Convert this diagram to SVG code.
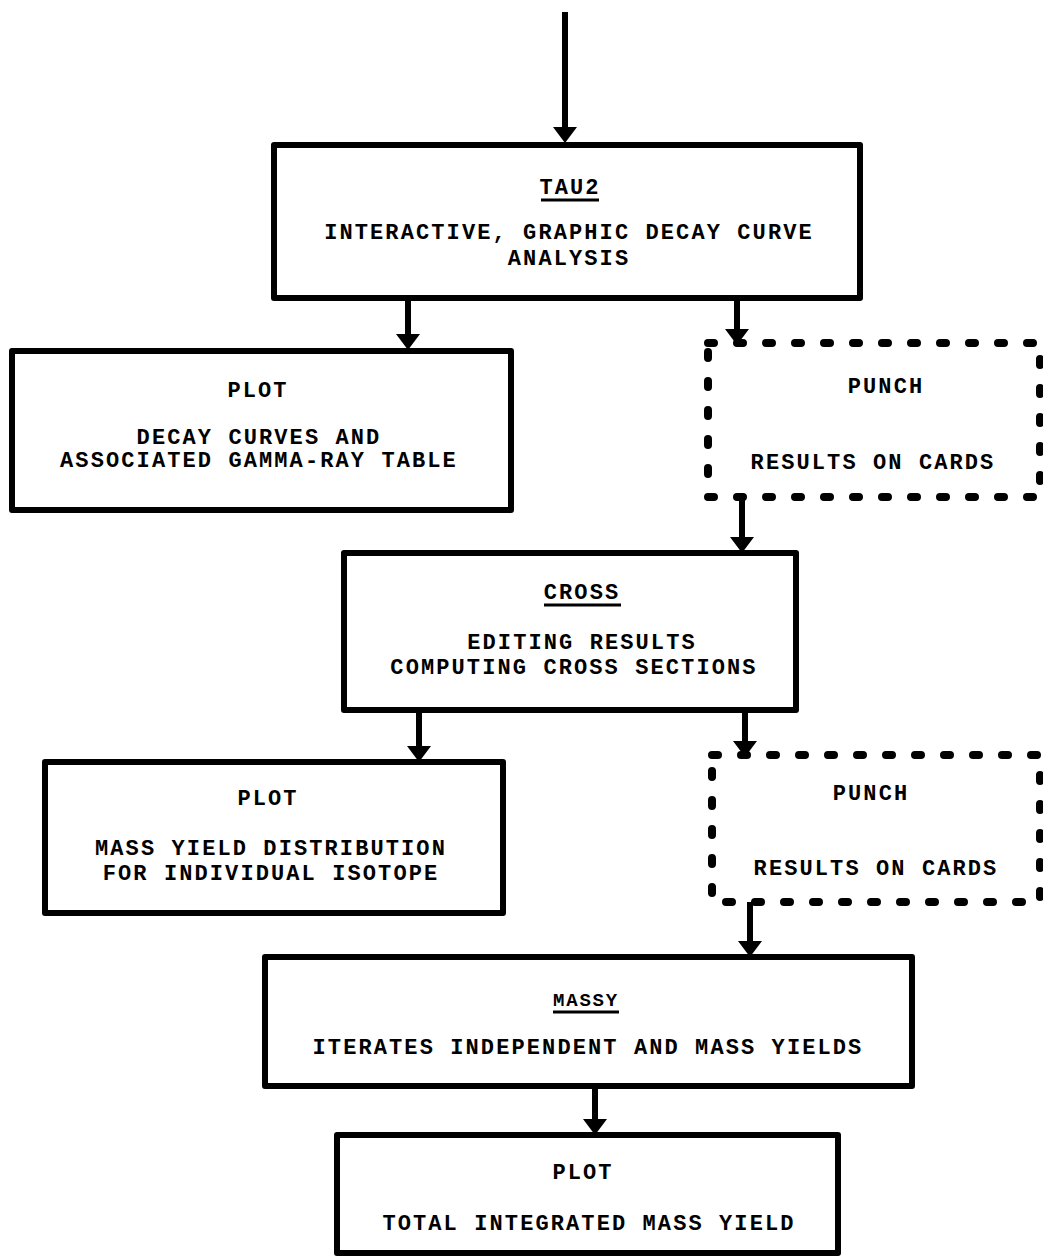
<svg xmlns="http://www.w3.org/2000/svg" width="1043" height="1258" viewBox="0 0 1043 1258">
<style>
.box{fill:none;stroke:#000;stroke-width:6;stroke-linejoin:round}
.dash{fill:none;stroke:#000;stroke-width:8;stroke-linecap:round;stroke-dasharray:6 23}
.t{font-family:"Liberation Mono","DejaVu Sans Mono",monospace;font-weight:bold;font-size:22px;letter-spacing:2.1px;text-anchor:middle;fill:#000}
.s{font-size:19px;letter-spacing:1.8px}
.ul{stroke:#000;stroke-width:3}
.ar{stroke:#000;stroke-width:6;fill:none}
</style>
<defs>
<marker id="ah" viewBox="0 0 16 24" refX="6" refY="12" markerWidth="16" markerHeight="24" markerUnits="userSpaceOnUse" orient="auto">
<path d="M0,0 L16,12 L0,24 Z" fill="#000"/>
</marker>
</defs>
<rect width="1043" height="1258" fill="#fff"/>

<g id="connectors">
<line class="ar" x1="565" y1="12" x2="565" y2="133" marker-end="url(#ah)"/>
<line class="ar" x1="408" y1="298" x2="408" y2="340" marker-end="url(#ah)"/>
<line class="ar" x1="737" y1="298" x2="737" y2="335" marker-end="url(#ah)"/>
<line class="ar" x1="742" y1="497" x2="742" y2="543" marker-end="url(#ah)"/>
<line class="ar" x1="419" y1="710" x2="419" y2="752" marker-end="url(#ah)"/>
<line class="ar" x1="745" y1="710" x2="745" y2="747" marker-end="url(#ah)"/>
<line class="ar" x1="750" y1="902" x2="750" y2="947" marker-end="url(#ah)"/>
<line class="ar" x1="595" y1="1086" x2="595" y2="1125" marker-end="url(#ah)"/>
</g>

<g id="tau2">
<rect class="box" x="274" y="145" width="586" height="153"/>
<text class="t" x="570" y="194">TAU2</text>
<line class="ul" x1="541" y1="200" x2="599" y2="200"/>
<text class="t" x="569" y="239">INTERACTIVE, GRAPHIC DECAY CURVE</text>
<text class="t" x="569" y="265">ANALYSIS</text>
</g>

<g id="plot1">
<rect class="box" x="12" y="351" width="499" height="159"/>
<text class="t" x="258" y="397">PLOT</text>
<text class="t" x="259" y="444">DECAY CURVES AND</text>
<text class="t" x="259" y="467">ASSOCIATED GAMMA-RAY TABLE</text>
</g>

<g id="punch1">
<rect class="dash" x="708" y="343" width="332" height="154"/>
<text class="t" x="886" y="393">PUNCH</text>
<text class="t" x="873" y="469">RESULTS ON CARDS</text>
</g>

<g id="cross">
<rect class="box" x="344" y="553" width="452" height="157"/>
<text class="t" x="582" y="599">CROSS</text>
<line class="ul" x1="544" y1="605" x2="621" y2="605"/>
<text class="t" x="582" y="649">EDITING RESULTS</text>
<text class="t" x="574" y="674">COMPUTING CROSS SECTIONS</text>
</g>

<g id="plot2">
<rect class="box" x="45" y="762" width="458" height="151"/>
<text class="t" x="268" y="805">PLOT</text>
<text class="t" x="271" y="855">MASS YIELD DISTRIBUTION</text>
<text class="t" x="271" y="880">FOR INDIVIDUAL ISOTOPE</text>
</g>

<g id="punch2">
<rect class="dash" x="712" y="755" width="328" height="147"/>
<text class="t" x="871" y="800">PUNCH</text>
<text class="t" x="876" y="875">RESULTS ON CARDS</text>
</g>

<g id="massy">
<rect class="box" x="265" y="957" width="647" height="129"/>
<text class="t s" x="586" y="1006">MASSY</text>
<line class="ul" x1="553" y1="1012" x2="619" y2="1012"/>
<text class="t" x="588" y="1054">ITERATES INDEPENDENT AND MASS YIELDS</text>
</g>

<g id="plot3">
<rect class="box" x="337" y="1135" width="501" height="118"/>
<text class="t" x="583" y="1179">PLOT</text>
<text class="t" x="589" y="1230">TOTAL INTEGRATED MASS YIELD</text>
</g>
</svg>
